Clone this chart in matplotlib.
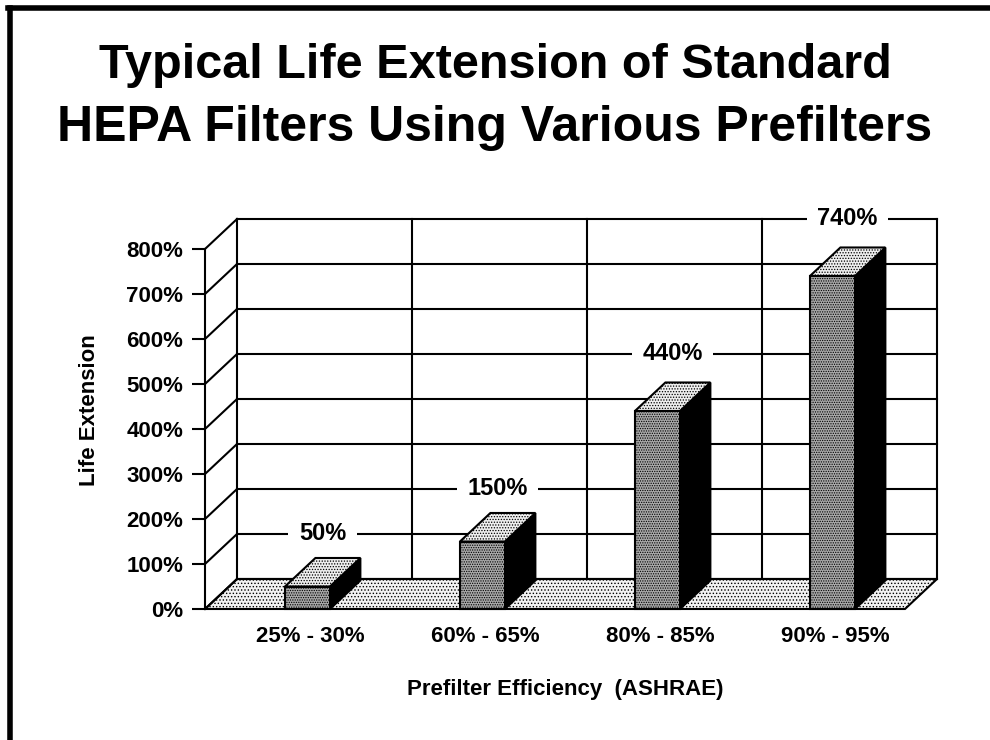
import numpy as np
import matplotlib.pyplot as plt
from matplotlib.patches import Polygon, Rectangle
from matplotlib.lines import Line2D

plt.rcParams['font.family'] = ['Liberation Sans', 'DejaVu Sans']
plt.rcParams['font.weight'] = 'bold'
plt.rcParams['hatch.linewidth'] = 0.6

# data
categories = ['25% - 30%', '60% - 65%', '80% - 85%', '90% - 95%']
values = [50, 150, 440, 740]
y_ticks = [0, 100, 200, 300, 400, 500, 600, 700, 800]
y_tick_labels = ['0%', '100%', '200%', '300%', '400%', '500%', '600%', '700%', '800%']

title_lines = ['Typical Life Extension of Standard', 'HEPA Filters Using Various Prefilters']
x_label = 'Prefilter Efficiency  (ASHRAE)'
y_label = 'Life Extension'

# fake 3d depth (in data units)
depth_x = 0.183
depth_y = 66.7
bar_off = 0.457
bar_w = 0.257
bar_depth = 0.95

n = len(categories)
ymax = y_ticks[-1]

fig = plt.figure(figsize=(9.9, 7.4), dpi=100)
ax = fig.add_axes([205/990, 1 - 609/740, 700/990, 360/740])
ax.set_xlim(0, n)
ax.set_ylim(0, ymax)

lw = 1.5
kw = dict(color='black', lw=lw, clip_on=False, solid_capstyle='projecting')

# floor
floor = Polygon([(0, 0), (n, 0), (n + depth_x, depth_y), (depth_x, depth_y)],
                closed=True, facecolor='#f2f2f2', edgecolor='black', hatch='.....',
                lw=lw, clip_on=False, zorder=1)
ax.add_patch(floor)

# back wall + left wall grid
for v in y_ticks:
    ax.plot([depth_x, n + depth_x], [v + depth_y, v + depth_y], zorder=2, **kw)
    ax.plot([0, depth_x], [v, v + depth_y], zorder=2, **kw)
for i in range(1, n + 1):
    ax.plot([i + depth_x, i + depth_x], [depth_y, ymax + depth_y], zorder=2, **kw)
ax.plot([depth_x, depth_x], [depth_y, ymax + depth_y], zorder=2, **kw)
ax.plot([0, 0], [0, ymax], zorder=2, **kw)

# value labels on back wall, at the grid line above each bar
for i, v in enumerate(values):
    lvl = np.floor(v / 100) * 100 + 100
    xc = i + bar_off + bar_w / 2 + depth_x * bar_depth / 2
    ax.text(xc, lvl + depth_y, f'{v}%', ha='center', va='center', fontsize=17,
            fontweight='bold', zorder=3,
            bbox=dict(boxstyle='square,pad=0.45', fc='white', ec='none'))

# bars
bdx = depth_x * bar_depth
bdy = depth_y * bar_depth
for i, v in enumerate(values):
    x0 = i + bar_off
    x1 = x0 + bar_w
    side = Polygon([(x1, 0), (x1, v), (x1 + bdx, v + bdy), (x1 + bdx, bdy)],
                   closed=True, facecolor='black', edgecolor='black', lw=lw,
                   clip_on=False, zorder=4)
    top = Polygon([(x0, v), (x1, v), (x1 + bdx, v + bdy), (x0 + bdx, v + bdy)],
                  closed=True, facecolor='#eeeeee', edgecolor='black', hatch='......',
                  lw=lw, clip_on=False, zorder=4)
    front = Rectangle((x0, 0), bar_w, v, facecolor='#a8a8a8', edgecolor='black',
                      hatch='.......', lw=lw, clip_on=False, zorder=5)
    ax.add_patch(side)
    ax.add_patch(top)
    ax.add_patch(front)

# axes styling
for s in ax.spines.values():
    s.set_visible(False)
ax.set_yticks(y_ticks)
ax.set_yticklabels(y_tick_labels)
ax.tick_params(axis='y', length=9.5, width=lw, pad=6, labelsize=16)
ax.set_xticks([i + 0.6 for i in range(n)])
ax.set_xticklabels(categories)
ax.tick_params(axis='x', length=0, pad=12, labelsize=16)
for t in ax.get_yticklabels() + ax.get_xticklabels():
    t.set_fontweight('bold')

ax.set_ylabel(y_label, fontsize=16, fontweight='bold')
ax.yaxis.set_label_coords(-0.15, 0.553)
ax.set_xlabel(x_label, fontsize=16, fontweight='bold', va='center')
ax.xaxis.set_label_coords(0.514, -0.225)

fig.text(0.5, 1 - 66/740, title_lines[0], ha='center', va='center', fontsize=35,
         fontweight='bold')
fig.text(0.5, 1 - 128/740, title_lines[1], ha='center', va='center', fontsize=36,
         fontweight='bold')

# page frame (left and top only)
fig.add_artist(Line2D([10/990, 10/990], [0, 1 - 8/740], transform=fig.transFigure,
                      color='black', lw=4))
fig.add_artist(Line2D([8/990, 1], [1 - 8/740, 1 - 8/740], transform=fig.transFigure,
                      color='black', lw=4))

fig.savefig('out.png', dpi=100)
